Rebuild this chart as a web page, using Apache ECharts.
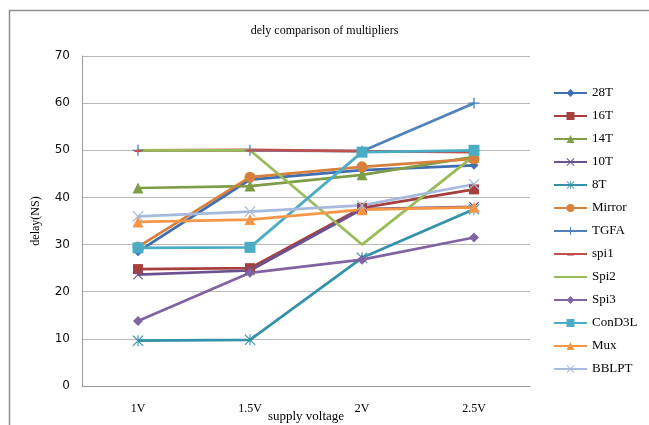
<!DOCTYPE html>
<html>
<head>
<meta charset="utf-8">
<script src="https://cdn.jsdelivr.net/npm/echarts@6/dist/echarts.min.js"></script>
<style>html,body{margin:0;padding:0;background:#fff;}#c{width:649px;height:425px;}</style>
</head>
<body>
<div id="c"></div>
<script>
var categories = ['1V', '1.5V', '2V', '2.5V'];
var yTicks = [0, 10, 20, 30, 40, 50, 60, 70];
var s28T   = [28.5, 43.8, 45.8, 46.8];
var s16T   = [24.8, 25.0, 37.8, 41.7];
var s14T   = [42.0, 42.4, 44.8, 48.6];
var s10T   = [23.6, 24.5, 37.5, 38.0];
var s8T    = [9.6, 9.8, 27.2, 37.5];
var sMirror = [29.5, 44.3, 46.5, 48.2];
var sTGFA  = [50.0, 50.0, 49.8, 60.0];
var sSpi1  = [50.0, 50.1, 49.8, 49.6];
var sSpi2  = [50.0, 50.0, 30.0, 48.8];
var sSpi3  = [13.8, 24.0, 26.8, 31.5];
var sConD3L = [29.3, 29.4, 49.6, 50.0];
var sMux   = [34.8, 35.3, 37.4, 37.9];
var sBBLPT = [36.0, 37.0, 38.3, 42.8];

var PLUS = 'path://M4.4,0h1.2v4.4h4.4v1.2h-4.4v4.4h-1.2v-4.4h-4.4v-1.2h4.4z';
var XMARK = 'path://M0,0.8L0.8,0L5,4.2L9.2,0L10,0.8L5.8,5L10,9.2L9.2,10L5,5.8L0.8,10L0,9.2L4.2,5z';
var STAR = 'path://M4.5,0h1v10h-1zM0,0.7L0.7,0L10,9.3L9.3,10zM10,0.7L9.3,0L0,9.3L0.7,10z';
var DASH = 'path://M0,0M10,10M1,4.6h8v2.4h-8z';

function mk(name, data, color, symbol, size) {
  return {
    name: name, type: 'line', data: data, color: color,
    symbol: symbol, symbolSize: size,
    lineStyle: { width: 2.75, color: color },
    itemStyle: { color: color },
    emphasis: { disabled: true },
    animation: false
  };
}

var series = [
  mk('28T', s28T, '#3f6fb1', 'diamond', 9),
  mk('16T', s16T, '#a5403d', 'rect', 10),
  mk('14T', s14T, '#7f9c46', 'triangle', 11),
  mk('10T', s10T, '#6a5290', XMARK, 10),
  mk('8T', s8T, '#3391a9', STAR, 11),
  mk('Mirror', sMirror, '#d5803c', 'circle', 11),
  mk('TGFA', sTGFA, '#4f81bd', PLUS, 11),
  mk('spi1', sSpi1, '#c0504d', DASH, 9),
  mk('Spi2', sSpi2, '#9bbb59', 'none', 0),
  mk('Spi3', sSpi3, '#8064a2', 'diamond', 10),
  mk('ConD3L', sConD3L, '#4bacc6', 'rect', 11),
  mk('Mux', sMux, '#f79646', 'triangle', 11),
  mk('BBLPT', sBBLPT, '#a7badd', XMARK, 11)
];

var legendData = series.map(function (s) {
  if (s.name === 'Spi2') {
    return { name: s.name, itemStyle: { color: 'rgba(0,0,0,0)', borderWidth: 0, opacity: 0 } };
  }
  return { name: s.name };
});

var chart = echarts.init(document.getElementById('c'), null, { renderer: 'canvas' });
chart.setOption({
  backgroundColor: '#fff',
  animation: false,
  title: {
    text: 'dely comparison of multipliers',
    left: 'center', top: 20,
    textStyle: { fontFamily: 'Liberation Serif', fontSize: 12, fontWeight: 'normal', color: '#000' }
  },
  graphic: [{
    type: 'rect', left: 7, top: 8, z: -10, silent: true,
    shape: { x: 0, y: 0, width: 700, height: 500 },
    style: { fill: 'none', stroke: '#8f8f8f', lineWidth: 1.5 }
  }],
  legend: {
    orient: 'vertical', left: 548, top: 81,
    itemWidth: 33, itemHeight: 10, itemGap: 9,
    lineStyle: { width: 2 },
    textStyle: { fontFamily: 'Liberation Serif', fontSize: 13, color: '#000', lineHeight: 14 },
    data: legendData
  },
  grid: { left: 82, top: 56, right: 119, bottom: 39, outerBoundsMode: 'none', containLabel: false },
  xAxis: {
    type: 'category', data: categories, boundaryGap: true,
    name: 'supply voltage', nameLocation: 'middle', nameGap: 24, nameMoveOverlap: false,
    nameTextStyle: { fontFamily: 'Liberation Serif', fontSize: 13, color: '#000' },
    axisLine: { lineStyle: { color: '#9a9a9a', width: 1 } },
    axisTick: { show: false },
    axisLabel: { fontFamily: 'Liberation Serif', fontSize: 12, color: '#000', margin: 17 }
  },
  yAxis: {
    type: 'value', min: yTicks[0], max: yTicks[yTicks.length - 1], interval: 10,
    name: 'delay(NS)', nameLocation: 'middle', nameGap: 40, nameMoveOverlap: false,
    nameTextStyle: { fontFamily: 'Liberation Serif', fontSize: 12, color: '#000' },
    axisLine: { show: true, lineStyle: { color: '#9a9a9a', width: 1 } },
    axisTick: { show: false },
    splitLine: { lineStyle: { color: '#b8b8b8', width: 1 } },
    axisLabel: { fontFamily: 'DejaVu Sans', fontSize: 12, color: '#111', margin: 12 }
  },
  series: series
});
</script>
</body>
</html>
